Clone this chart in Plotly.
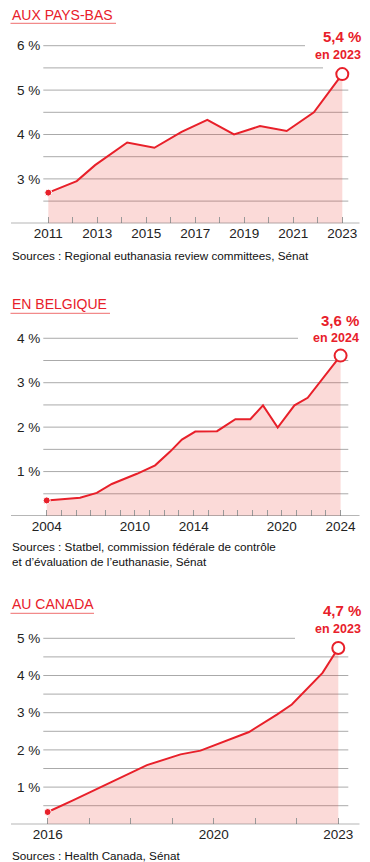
import plotly.graph_objects as go

# ---------------- data ----------------
nl_years = [2011, 2012.16, 2012.91, 2014.22, 2015.33, 2016.44, 2017.49, 2018.58, 2019.64, 2020.73, 2021.84, 2023]
nl_vals = [2.69, 2.95, 3.31, 3.82, 3.70, 4.06, 4.33, 4.00, 4.19, 4.08, 4.50, 5.36]
nl_xticks = list(range(2011, 2024))
nl_xlabels = [str(y) if y % 2 == 1 else "" for y in nl_xticks]
nl_yticks = [3, 4, 5, 6]

be_years = [2004, 2006.27, 2007.41, 2008.43, 2010.14, 2011.38, 2012.4, 2013.2, 2014.11, 2015.59,
            2016.84, 2017.86, 2018.72, 2019.72, 2020.86, 2021.76, 2024]
be_vals = [0.35, 0.41, 0.52, 0.72, 0.95, 1.14, 1.45, 1.72, 1.90, 1.91,
           2.18, 2.18, 2.49, 1.99, 2.49, 2.66, 3.61]
be_xticks = list(range(2004, 2025))
be_xlabels = [str(y) if y in (2004, 2010, 2014, 2020, 2024) else "" for y in be_xticks]
be_yticks = [1, 2, 3, 4]

ca_years = [2016, 2016.62, 2018.39, 2019.2, 2019.68, 2020.85, 2021.52, 2021.88, 2022.62, 2023]
ca_vals = [0.33, 0.65, 1.59, 1.88, 1.98, 2.48, 2.95, 3.22, 4.07, 4.74]
ca_xticks = list(range(2016, 2024))
ca_xlabels = [str(y) if y in (2016, 2020, 2023) else "" for y in ca_xticks]
ca_yticks = [1, 2, 3, 4, 5]

titles = ["AUX PAYS-BAS", "EN BELGIQUE", "AU CANADA"]
sources = ["Sources : Regional euthanasia review committees, Sénat",
           "Sources : Statbel, commission fédérale de contrôle<br>et d’évaluation de l’euthanasie, Sénat",
           "Sources : Health Canada, Sénat"]

# ---------------- style / layout ----------------
W, H = 370, 862
RED = "#e8202a"
FILL = "rgba(235,60,50,0.19)"
GRID = "#aaaaaa"
FONT = "Liberation Sans, Arial, sans-serif"


def px(x):
    return x / W


def py(y):
    return 1 - y / H


panels = [
    dict(x=nl_years, y=nl_vals, xt=nl_xticks, xl=nl_xlabels, yt=nl_yticks,
         xr=[2010.796, 2023.245], base=2, base_px=223.3, unit=44.4, top_px=38,
         grid=[2.5, 3, 3.5, 4, 4.5, 5, 5.5, 6], gridend={6: 305, 5.5: 323},
         title_y=14.7, ul_y=23.3, ul_x1=116, val_y=36.7, yr_y=54.5, src_y=255.7, lab_right=363),
    dict(x=be_years, y=be_vals, xt=be_xticks, xl=be_xlabels, yt=be_yticks,
         xr=[2003.768, 2024.525], base=0, base_px=516, unit=44.43, top_px=330,
         grid=[0.5, 1, 1.5, 2, 2.5, 3, 3.5, 4], gridend={4: 298},
         title_y=304, ul_y=313.3, ul_x1=110, val_y=320, yr_y=338.3, src_y=553.7, lab_right=361),
    dict(x=ca_years, y=ca_vals, xt=ca_xticks, xl=ca_xlabels, yt=ca_yticks,
         xr=[2015.894, 2023.241], base=0, base_px=824.3, unit=37.2, top_px=625,
         grid=[0.5, 1, 1.5, 2, 2.5, 3, 3.5, 4, 4.5, 5], gridend={5: 295},
         title_y=604, ul_y=613.3, ul_x1=94, val_y=610.8, yr_y=629, src_y=855.8, lab_right=363),
]

fig = go.Figure()
shapes = []
annotations = []
layout = {}

for i, p in enumerate(panels):
    n = "" if i == 0 else str(i + 1)
    xa, ya = "x" + n, "y" + n
    ytop = p["base"] + (p["base_px"] - p["top_px"]) / p["unit"]

    fig.add_trace(go.Scatter(x=p["x"], y=p["y"], xaxis=xa, yaxis=ya, mode="lines",
                             line=dict(color=RED, width=2), fill="tozeroy", fillcolor=FILL,
                             hoverinfo="skip", showlegend=False))
    fig.add_trace(go.Scatter(x=p["x"][:1], y=p["y"][:1], xaxis=xa, yaxis=ya, mode="markers",
                             marker=dict(color=RED, size=7, line=dict(color="white", width=1)),
                             cliponaxis=False, showlegend=False, hoverinfo="skip"))
    fig.add_trace(go.Scatter(x=p["x"][-1:], y=p["y"][-1:], xaxis=xa, yaxis=ya, mode="markers",
                             marker=dict(color="white", size=12, line=dict(color=RED, width=2)),
                             cliponaxis=False, showlegend=False, hoverinfo="skip"))

    layout["xaxis" + n] = dict(domain=[px(43.3), px(348.3)], range=p["xr"], anchor=ya,
                               tickvals=p["xt"], ticktext=p["xl"], ticks="inside", ticklen=6,
                               tickcolor="#999999", tickwidth=1, showgrid=False, zeroline=False,
                               showline=False, fixedrange=True, automargin=False,
                               tickfont=dict(family=FONT, size=13.5, color="#222222"))
    layout["yaxis" + n] = dict(domain=[py(p["base_px"]), py(p["top_px"])], range=[p["base"], ytop],
                               anchor=xa, tickvals=p["yt"], ticktext=[f"{v} %" for v in p["yt"]],
                               ticks="", showgrid=False, zeroline=False, showline=False,
                               fixedrange=True, ticklabelstandoff=2, automargin=False,
                               tickfont=dict(family=FONT, size=13.5, color="#222222"))

    for g in p["grid"]:
        shapes.append(dict(type="line", xref="paper", yref=ya, x0=px(43.3),
                           x1=px(p["gridend"].get(g, 348.3)), y0=g, y1=g,
                           line=dict(color=GRID, width=1), layer="below"))
    shapes.append(dict(type="line", xref="paper", yref=ya, x0=px(11), x1=px(359.5),
                       y0=p["base"], y1=p["base"], line=dict(color="#6e6e6e", width=1.2), layer="above"))
    shapes.append(dict(type="line", xref="paper", yref="paper", x0=px(10.5), x1=px(p["ul_x1"]),
                       y0=py(p["ul_y"]), y1=py(p["ul_y"]), line=dict(color="#f28a8a", width=1.2)))

    annotations.append(dict(text=titles[i], xref="paper", yref="paper", x=px(10), y=py(p["title_y"]),
                            xanchor="left", yanchor="middle", showarrow=False,
                            font=dict(family=FONT, size=14, color=RED)))
    last_v = f"{p['y'][-1]:.1f}".replace(".", ",") + " %"
    last_y = f"en {int(round(p['x'][-1]))}"
    annotations.append(dict(text=f"<b>{last_v}</b>", xref="paper", yref="paper", x=px(p["lab_right"]),
                            y=py(p["val_y"]), xanchor="right", yanchor="middle", showarrow=False,
                            font=dict(family=FONT, size=15, color=RED)))
    annotations.append(dict(text=f"<b>{last_y}</b>", xref="paper", yref="paper", x=px(p["lab_right"]),
                            y=py(p["yr_y"]), xanchor="right", yanchor="middle", showarrow=False,
                            font=dict(family=FONT, size=12.5, color=RED)))
    annotations.append(dict(text=sources[i], xref="paper", yref="paper", x=px(10), y=py(p["src_y"]),
                            xanchor="left", yanchor="middle", align="left", showarrow=False,
                            font=dict(family=FONT, size=11.7, color="#111111")))

fig.update_layout(width=W, height=H, margin=dict(l=0, r=0, t=0, b=0, autoexpand=False),
                  paper_bgcolor="white", plot_bgcolor="rgba(0,0,0,0)",
                  shapes=shapes, annotations=annotations, showlegend=False, **layout)

fig.write_html("out.html", config={"displayModeBar": False},
               post_script="document.body.style.margin='0';document.body.style.overflow='hidden';")
